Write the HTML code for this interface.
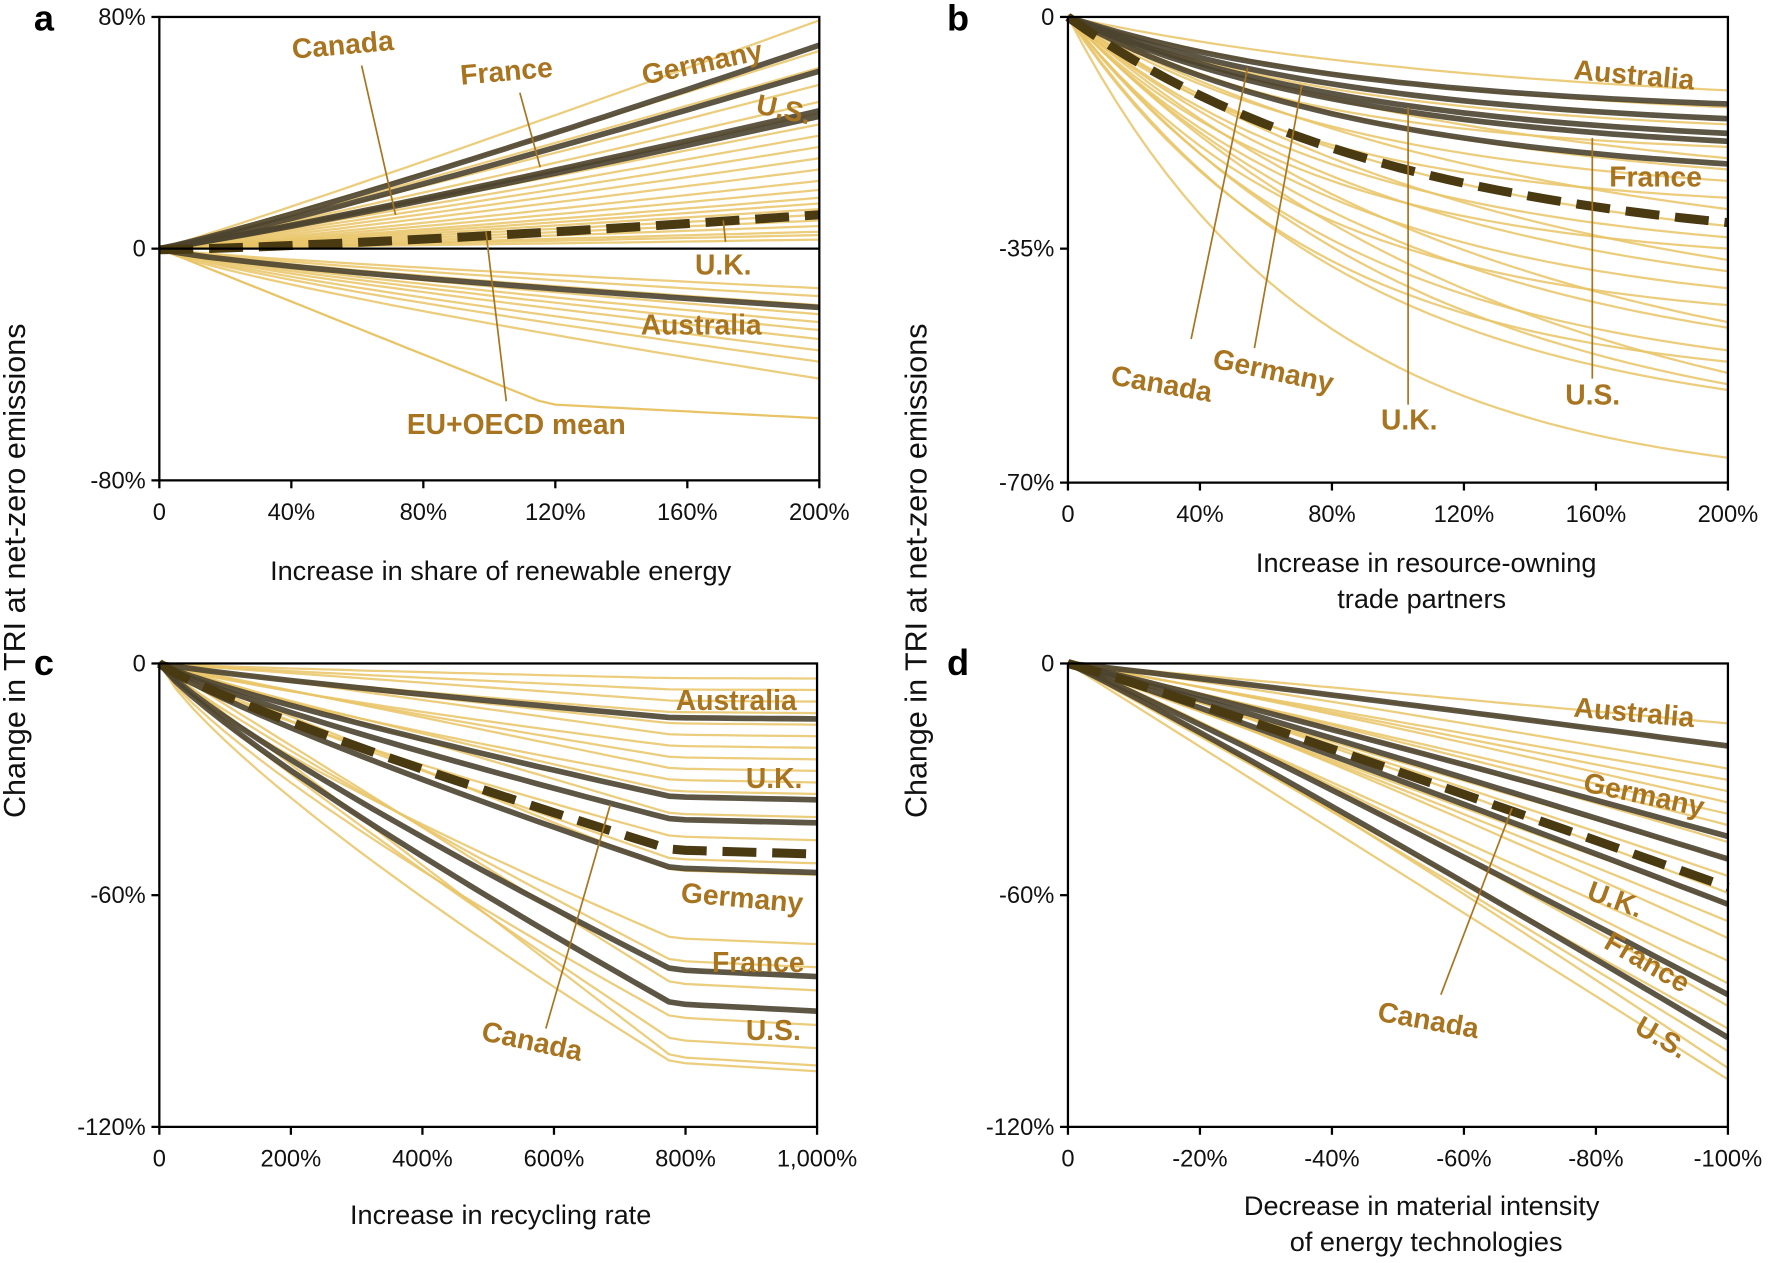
<!DOCTYPE html>
<html><head><meta charset="utf-8"><style>
html,body{margin:0;padding:0;background:#fff;}
svg text{font-family:"Liberation Sans",sans-serif;}
.t{font-size:21px;fill:#111;}
.lb{font-size:25px;font-weight:bold;fill:#a8741f;}
.pl{font-size:32px;font-weight:bold;fill:#000;}
</style></head><body>
<svg id="s" width="1772" height="1258" viewBox="0 0 1568 1113" preserveAspectRatio="none" xmlns="http://www.w3.org/2000/svg">
<g id="g"></g>
</svg>
<script>
const g=document.getElementById('g');let h='';
const Y='#e9c466',D='#4d4430',M='#4a3a12';
function path(pts){return 'M'+pts.map(p=>p[0].toFixed(1)+','+p[1].toFixed(1)).join('L');}
function line(x0,x1,y0,end,f,col,w,dash,op){let p=[];for(let i=0;i<=40;i++){let t=i/40;p.push([x0+(x1-x0)*t,y0+(end-y0)*f(t)]);}
h+=`<path d="${path(p)}" fill="none" stroke="${col}" stroke-width="${w}" ${dash?'stroke-dasharray="'+dash+'"':''} opacity="${op||1}" stroke-linejoin="round"/>`;}
const fa=t=>Math.pow(t,1.05);
[18,45,60,75,90,100,110,120,130,140,150,160,168,175,180,185,190,195,200,205,208,212].forEach(e=>line(141,725,220,e,fa,Y,2,null,0.85));
[255,262,270,278,285,292,300,310,320,335].forEach(e=>line(141,725,220,e,t=>Math.pow(t,0.8),Y,2,null,0.85));
line(141,725,220,370,t=>Math.min(1,t*1.7)*0.8+t*0.2,Y,2);
[40,63,98,103].forEach(e=>line(141,725,220,e,t=>Math.pow(t,1.1),D,5,null,0.9));
line(141,725,220,272,t=>Math.pow(t,0.75),D,5,null,0.9);
line(141,725,221,190,t=>Math.pow(t,1.3),M,8,'30,14');
const fb=k=>t=>(1-Math.exp(-k*t))/(1-Math.exp(-k));
[80,95,110,130,140,150,160,175,185,200,210,220,230,240,255,270,285,290,310,320,330,340,345,405].forEach((e,i)=>line(945,1529,15,e,fb(1.5+(i%4)*0.4),Y,2,null,0.85));
[92,105,118,125,145].forEach(e=>line(945,1529,15,e,fb(2.2),D,5,null,0.9));
line(945,1529,15,197,fb(2),M,8,'30,14');
const fc=(k)=>t=>{let a=Math.min(t/0.78,1);let v=Math.pow(a,k);return t>0.78?1+(t-0.78)*0.1:v;};
[600,610,620,630,640,650,660,670,680,690,700,720,740,760,770,830,850,870,900,920,935,940].forEach((e,i)=>line(141,723,587,e,fc(0.8+(i%3)*0.1),Y,2,null,0.85));
[635,705,725,768,858,888].forEach(e=>line(141,723,587,e,fc(0.85),D,5,null,0.9));
line(141,723,587,752,fc(0.85),M,8,'30,14');
const fd=k=>t=>Math.pow(t,k);
[640,660,680,690,700,710,720,730,745,760,775,790,800,815,830,850,870,890,910,930,945,955].forEach((e,i)=>line(945,1529,587,e,fd(1+(i%3)*0.05),Y,2,null,0.85));
[660,740,760,800,880,918].forEach(e=>line(945,1529,587,e,fd(1.05),D,5,null,0.9));
line(945,1529,587,785,fd(1.05),M,8,'30,14');
function axes(x0,x1,y0,y1,xt,yt,ytl){
h+=`<rect x="${x0}" y="${y0}" width="${x1-x0}" height="${y1-y0}" fill="none" stroke="#000" stroke-width="2"/>`;
xt.forEach((l,i)=>{let x=x0+(x1-x0)*i/(xt.length-1);h+=`<line x1="${x}" y1="${y1}" x2="${x}" y2="${y1+7}" stroke="#000" stroke-width="2"/><text class="t" x="${x}" y="${y1+35}" text-anchor="middle">${l}</text>`;});
yt.forEach((l,i)=>{let y=ytl[i];h+=`<line x1="${x0-7}" y1="${y}" x2="${x0}" y2="${y}" stroke="#000" stroke-width="2"/><text class="t" x="${x0-12}" y="${y+7}" text-anchor="end">${l}</text>`;});}
axes(141,725,15,425,['0','40%','80%','120%','160%','200%'],['80%','0','-80%'],[15,220,425]);
h+='<line x1="141" y1="220" x2="725" y2="220" stroke="#000" stroke-width="2"/>';
axes(945,1529,15,427,['0','40%','80%','120%','160%','200%'],['0','-35%','-70%'],[15,220,427]);
axes(141,723,587,997,['0','200%','400%','600%','800%','1,000%'],['0','-60%','-120%'],[587,792,997]);
axes(945,1529,587,997,['0','-20%','-40%','-60%','-80%','-100%'],['0','-60%','-120%'],[587,792,997]);
h+=`<text class="t" x="443" y="513" text-anchor="middle" style="font-size:24px">Increase in share of renewable energy</text>
<text class="t" style="font-size:24px" x="1262" y="506" text-anchor="middle">Increase in resource-owning</text>
<text class="t" style="font-size:24px" x="1258" y="538" text-anchor="middle">trade partners</text>
<text class="t" style="font-size:24px" x="443" y="1083" text-anchor="middle">Increase in recycling rate</text>
<text class="t" style="font-size:24px" x="1258" y="1075" text-anchor="middle">Decrease in material intensity</text>
<text class="t" style="font-size:24px" x="1262" y="1107" text-anchor="middle">of energy technologies</text>
<text class="t" style="font-size:27px" transform="translate(22,505) rotate(-90)" text-anchor="middle">Change in TRI at net-zero emissions</text>
<text class="t" style="font-size:27px" transform="translate(820,505) rotate(-90)" text-anchor="middle">Change in TRI at net-zero emissions</text>
<text class="pl" x="30" y="27">a</text><text class="pl" x="838" y="27">b</text>
<text class="pl" x="30" y="597">c</text><text class="pl" x="838" y="597">d</text>`;
const L='#a8741f';
function ld(x1,y1,x2,y2){h+=`<line x1="${x1}" y1="${y1}" x2="${x2}" y2="${y2}" stroke="${L}" stroke-width="1.5"/>`;}
ld(320,58,350,190);ld(460,82,478,148);ld(430,205,448,355);ld(640,195,642,214);
ld(1104,60,1054,300);ld(1152,75,1110,308);ld(1246,95,1246,358);ld(1409,122,1409,335);
ld(540,712,483,910);ld(1338,715,1275,880);
const lab=[[259,52,'Canada',-5],[408,75,'France',-5],[570,75,'Germany',-12],[668,100,'U.S.',12],[615,243,'U.K.',0],[567,296,'Australia',0],[360,384,'EU+OECD mean',0],
[1392,70,'Australia',5],[1424,165,'France',0],[982,340,'Canada',10],[1072,325,'Germany',12],[1222,380,'U.K.',0],[1385,358,'U.S.',0],
[598,628,'Australia',0],[660,697,'U.K.',0],[602,798,'Germany',5],[630,860,'France',0],[660,920,'U.S.',0],[425,920,'Canada',12],
[1392,634,'Australia',5],[1400,700,'Germany',12],[1403,795,'U.K.',20],[1418,838,'France',30],[1445,913,'U.S.',30],[1218,903,'Canada',10]];
lab.forEach(([x,y,s,r])=>h+=`<text class="lb" x="${x}" y="${y}" transform="rotate(${r} ${x} ${y})">${s}</text>`);
g.innerHTML=h;
</script>
</body></html>
